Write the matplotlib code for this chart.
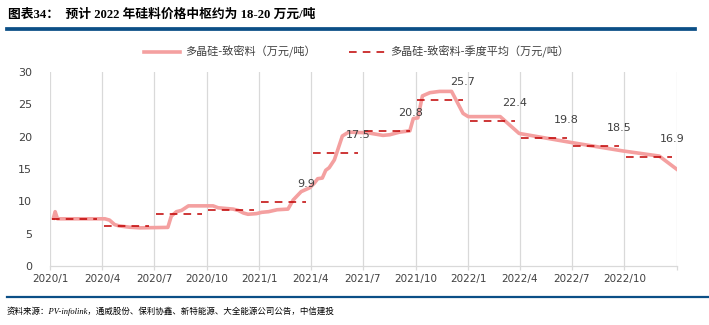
import matplotlib
matplotlib.use("Agg")
import matplotlib.pyplot as plt
import matplotlib.dates as mdates
import numpy as np
import pandas as pd

# ---------------- data ----------------
price_dates = ["2020-01-07", "2020-01-10", "2020-01-14", "2020-04-06", "2020-04-14", "2020-04-23",
               "2020-05-01", "2020-05-19", "2020-06-06", "2020-07-25", "2020-07-31", "2020-08-09",
               "2020-08-18", "2020-08-30", "2020-10-12", "2020-10-21", "2020-11-16", "2020-11-25",
               "2020-12-04", "2020-12-12", "2020-12-27", "2021-01-05", "2021-01-17", "2021-02-01",
               "2021-02-20", "2021-03-01", "2021-03-15", "2021-03-30", "2021-04-07", "2021-04-13",
               "2021-04-21", "2021-04-27", "2021-05-03", "2021-05-12", "2021-05-17", "2021-05-26",
               "2021-06-04", "2021-06-07", "2021-07-09", "2021-08-05", "2021-08-17", "2021-09-03",
               "2021-09-21", "2021-09-27", "2021-10-05", "2021-10-13", "2021-10-26", "2021-11-12",
               "2021-12-03", "2021-12-23", "2022-01-01", "2022-02-26", "2022-03-31", "2022-06-30",
               "2022-09-28", "2022-12-01", "2022-12-31"]
price_values = [7.4, 8.4, 7.3, 7.3, 7.1, 6.4,
                6.2, 6.0, 5.9, 5.97, 7.7, 8.4,
                8.6, 9.3, 9.3, 9.0, 8.8, 8.6,
                8.2, 8.0, 8.1, 8.3, 8.4, 8.7,
                8.8, 10.2, 11.5, 12.1, 12.8, 13.5,
                13.6, 14.8, 15.2, 16.4, 17.7, 20.1,
                20.6, 20.7, 20.6, 20.2, 20.3, 20.7,
                20.9, 22.8, 22.9, 26.3, 26.8, 27.0,
                27.0, 23.6, 23.1, 23.1, 20.5, 19.1,
                17.8, 17.0, 15.0]

quarter_starts = ["2020-01-01", "2020-04-01", "2020-07-01", "2020-10-01",
                  "2021-01-01", "2021-04-01", "2021-07-01", "2021-10-01",
                  "2022-01-01", "2022-04-01", "2022-07-01", "2022-10-01"]
quarter_avg = [7.3, 6.2, 8.0, 8.7, 9.9, 17.5, 20.8, 25.7, 22.4, 19.8, 18.5, 16.9]
quarter_labels = ["", "", "", "", "9.9", "17.5", "20.8", "25.7", "22.4", "19.8", "18.5", "16.9"]

xtick_labels = ["2020/1", "2020/4", "2020/7", "2020/10", "2021/1", "2021/4",
                "2021/7", "2021/10", "2022/1", "2022/4", "2022/7", "2022/10", ""]
xtick_dates = quarter_starts + ["2023-01-01"]
yticks = [0, 5, 10, 15, 20, 25, 30]

title = "图表34：  预计 2022 年硅料价格中枢约为 18-20 万元/吨"
legend1 = "多晶硅-致密料（万元/吨）"
legend2 = "多晶硅-致密料-季度平均（万元/吨）"
source = "资料来源：PV-infolink，通威股份、保利协鑫、新特能源、大全能源公司公告，中信建投"

# ---------------- plot ----------------
plt.rcParams['font.family'] = ['Noto Sans CJK SC', 'DejaVu Sans']
W, H = 709, 325
fig = plt.figure(figsize=(W / 100, H / 100), dpi=100)
ax = fig.add_axes([50 / W, 1 - 266 / H, (677 - 50) / W, (266 - 72) / H])

pd_dates = pd.to_datetime(price_dates)
line1, = ax.plot(pd_dates, price_values, color="#F4A0A0", lw=2.6, solid_joinstyle="round", zorder=3)

qs = pd.to_datetime(quarter_starts)
qe = list(qs[1:]) + [pd.Timestamp("2023-01-01")]
line2 = None
for s, e, v, lab in zip(qs, qe, quarter_avg, quarter_labels):
    x0 = s + pd.Timedelta(days=3)
    x1 = e - pd.Timedelta(days=9)
    line2, = ax.plot([x0, x1], [v, v], color="#C00000", lw=1.1, dashes=(5, 4), zorder=4)
    if lab:
        ax.annotate(lab, xy=(x1, v), xytext=(0, 13), textcoords="offset points",
                    ha="center", va="center", fontsize=8, color="#404040",
                    family=["DejaVu Sans"], zorder=5)

ax.set_xlim(pd.Timestamp("2020-01-01"), pd.Timestamp("2023-01-01"))
ax.set_ylim(0, 30)
ax.set_yticks(yticks)
ax.set_xticks(pd.to_datetime(xtick_dates))
ax.set_xticklabels(xtick_labels)
ax.grid(axis="x", color="#D9D9D9", lw=0.9)
ax.grid(axis="y", visible=False)
for sp in ["left", "right", "top"]:
    ax.spines[sp].set_visible(False)
ax.spines["bottom"].set_color("#D9D9D9")
ax.spines["bottom"].set_linewidth(0.9)
ax.tick_params(axis="x", length=3, color="#D9D9D9", width=0.9, pad=3, labelsize=7.5, labelcolor="#404040")
ax.tick_params(axis="y", length=0, pad=13, labelsize=8, labelcolor="#404040")
for t in ax.get_xticklabels() + ax.get_yticklabels():
    t.set_family(["DejaVu Sans"])

# legend
fig.legend([line1, line2], [legend1, legend2], loc="center", bbox_to_anchor=(357 / W, 1 - 52 / H),
           ncol=2, frameon=False, fontsize=8, handlelength=3.2, columnspacing=3.0,
           labelcolor="#404040", handletextpad=0.5)

# title and rules
fig.text(8 / W, 1 - 15 / H, title, fontsize=9.2, fontweight="bold", color="#000000",
         ha="left", va="center", family=["Liberation Serif", "Noto Sans CJK SC"])
fig.add_artist(plt.Line2D([7 / W, 695 / W], [1 - 29 / H, 1 - 29 / H], color="#0B4F86", lw=2.7,
                          transform=fig.transFigure))
fig.add_artist(plt.Line2D([7 / W, 709 / W], [1 - 297 / H, 1 - 297 / H], color="#0B4F86", lw=1.6,
                          transform=fig.transFigure))
fig.text(7 / W, 1 - 311 / H, source, fontsize=6.1, color="#000000", ha="left", va="center",
         style="italic", family=["Liberation Serif", "Noto Sans CJK SC"])

fig.savefig("out.png", dpi=100)
